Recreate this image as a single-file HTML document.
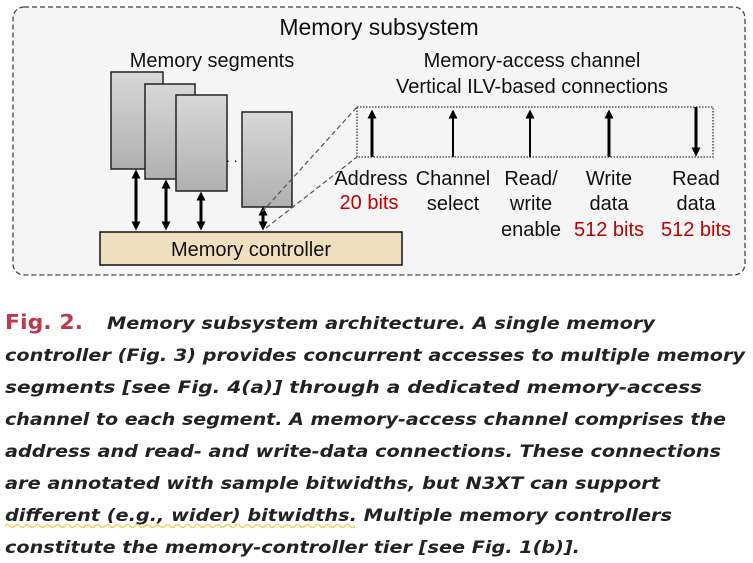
<!DOCTYPE html>
<html><head><meta charset="utf-8"><style>
html,body{margin:0;padding:0;background:#fff;}
svg{display:block;}
.d{font-family:"Liberation Sans",Arial,sans-serif;fill:#111;}
.c{font-family:"DejaVu Sans",sans-serif;font-weight:bold;font-style:italic;font-size:17px;fill:#222;}
.r{fill:#c00000;}
</style></head><body>
<svg width="753" height="563" viewBox="0 0 753 563" xmlns="http://www.w3.org/2000/svg">
<defs>
<linearGradient id="g" x1="0" y1="0" x2="0" y2="1"><stop offset="0" stop-color="#d8d8d8"/><stop offset="1" stop-color="#b0b0b0"/></linearGradient>
<marker id="ah" markerWidth="9" markerHeight="9" refX="4.5" refY="4.5" orient="auto-start-reverse" markerUnits="userSpaceOnUse"><path d="M0,0 L9,4.5 L0,9 z" fill="#000"/></marker>
</defs>
<rect x="13" y="7" width="732" height="268" rx="11" fill="#f5f5f5" stroke="#444" stroke-width="1.3" stroke-dasharray="5,3"/>
<text class="d" x="379" y="35" font-size="23" text-anchor="middle">Memory subsystem</text>
<text class="d" x="212" y="67" font-size="20" text-anchor="middle">Memory segments</text>
<text class="d" x="532" y="67" font-size="20" text-anchor="middle">Memory-access channel</text>
<text class="d" x="532" y="93" font-size="20" text-anchor="middle">Vertical ILV-based connections</text>
<rect x="111" y="72" width="52" height="97" fill="url(#g)" stroke="#222" stroke-width="1.5"/>
<rect x="145" y="84" width="50" height="95" fill="url(#g)" stroke="#222" stroke-width="1.5"/>
<rect x="176" y="95" width="51" height="96" fill="url(#g)" stroke="#222" stroke-width="1.5"/>
<rect x="242" y="112" width="50" height="95" fill="url(#g)" stroke="#222" stroke-width="1.5"/>
<text class="d" x="226" y="162" font-size="14">. .</text>
<g stroke="#000" stroke-width="3" marker-start="url(#ah)" marker-end="url(#ah)">
<line x1="136" y1="174" x2="136" y2="226"/>
<line x1="166" y1="184" x2="166" y2="226"/>
<line x1="201" y1="196" x2="201" y2="226"/>
<line x1="263" y1="211" x2="263" y2="226"/>
</g>
<g stroke="#555" stroke-width="1.2" stroke-dasharray="5,3" fill="none">
<line x1="262" y1="212" x2="357" y2="107"/>
<line x1="266" y1="228" x2="357" y2="157"/>
</g>
<rect x="100" y="232" width="302" height="33" fill="#efdfbf" stroke="#111" stroke-width="1.5"/>
<text class="d" x="251" y="256" font-size="20" text-anchor="middle">Memory controller</text>
<rect x="357" y="107" width="356" height="50" fill="none" stroke="#333" stroke-width="1.3" stroke-dasharray="1.5,1.5"/>
<g stroke="#000">
<line x1="372" y1="157" x2="372" y2="114" stroke-width="3" marker-end="url(#ah)"/>
<line x1="453" y1="157" x2="453" y2="114" stroke-width="2" marker-end="url(#ah)"/>
<line x1="530" y1="157" x2="530" y2="114" stroke-width="2" marker-end="url(#ah)"/>
<line x1="609" y1="157" x2="609" y2="114" stroke-width="3" marker-end="url(#ah)"/>
<line x1="696" y1="107" x2="696" y2="152" stroke-width="3" marker-end="url(#ah)"/>
</g>
<g font-size="20" text-anchor="middle" class="d">
<text class="d" x="371" y="185">Address</text>
<text class="d r" x="369" y="209">20 bits</text>
<text class="d" x="453" y="185">Channel</text>
<text class="d" x="453" y="210">select</text>
<text class="d" x="531" y="185">Read/</text>
<text class="d" x="531" y="210">write</text>
<text class="d" x="531" y="236">enable</text>
<text class="d" x="609" y="185">Write</text>
<text class="d" x="609" y="210">data</text>
<text class="d r" x="609" y="236">512 bits</text>
<text class="d" x="696" y="185">Read</text>
<text class="d" x="696" y="210">data</text>
<text class="d r" x="696" y="236">512 bits</text>
</g>
<text x="5" y="329" font-family="DejaVu Sans,sans-serif" font-weight="bold" font-size="20" fill="#c0394b" textLength="78" lengthAdjust="spacingAndGlyphs">Fig. 2.</text>
<text class="c" x="107" y="329" textLength="548" lengthAdjust="spacingAndGlyphs">Memory subsystem architecture. A single memory</text>
<text class="c" x="5" y="361" textLength="740" lengthAdjust="spacingAndGlyphs">controller (Fig. 3) provides concurrent accesses to multiple memory</text>
<text class="c" x="5" y="393" textLength="697" lengthAdjust="spacingAndGlyphs">segments [see Fig. 4(a)] through a dedicated memory-access</text>
<text class="c" x="5" y="425" textLength="721" lengthAdjust="spacingAndGlyphs">channel to each segment. A memory-access channel comprises the</text>
<text class="c" x="5" y="457" textLength="716" lengthAdjust="spacingAndGlyphs">address and read- and write-data connections. These connections</text>
<text class="c" x="5" y="489" textLength="655" lengthAdjust="spacingAndGlyphs">are annotated with sample bitwidths, but N3XT can support</text>
<text class="c" x="5" y="521" textLength="667" lengthAdjust="spacingAndGlyphs">different (e.g., wider) bitwidths. Multiple memory controllers</text>
<text class="c" x="5" y="553" textLength="575" lengthAdjust="spacingAndGlyphs">constitute the memory-controller tier [see Fig. 1(b)].</text>
<path d="M5,526 q2.5,-3 5,0 t5,0 t5,0 t5,0 t5,0 t5,0 t5,0 t5,0 t5,0 t5,0 t5,0 t5,0 t5,0 t5,0 t5,0 t5,0 t5,0 t5,0 t5,0 t5,0 t5,0 t5,0 t5,0 t5,0 t5,0 t5,0 t5,0 t5,0 t5,0 t5,0 t5,0 t5,0 t5,0 t5,0 t5,0 t5,0 t5,0 t5,0 t5,0 t5,0 t5,0 t5,0 t5,0 t5,0 t5,0 t5,0 t5,0 t5,0 t5,0 t5,0 t5,0 t5,0 t5,0 t5,0 t5,0 t5,0 t5,0 t5,0 t5,0 t5,0 t5,0 t5,0 t5,0 t5,0 t5,0 t5,0 t5,0 t5,0 t5,0 t5,0" fill="none" stroke="#f5d060" stroke-width="1.5"/>
</svg>
</body></html>
